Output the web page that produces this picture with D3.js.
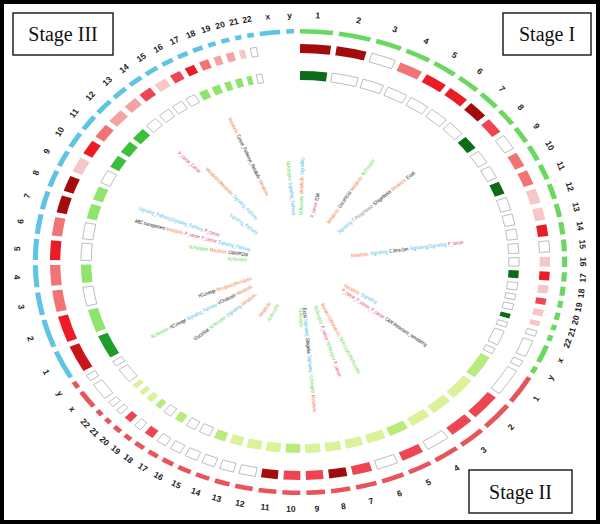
<!DOCTYPE html>
<html>
<head>
<meta charset="utf-8">
<script src="https://cdn.jsdelivr.net/npm/d3@7/dist/d3.min.js"></script>
<style>
  body { margin: 0; background: #fff; }
  svg { display: block; font-family: "Liberation Sans", Arial, sans-serif; }
</style>
</head>
<body>
<script>
// circos style overview of three stages, chromosomes 1-22, x, y

var width = 600, height = 524;
var cx = 300, cy = 262, sx = 1.147;   // the picture is an ellipse, wider than tall

var chroms = ["1","2","3","4","5","6","7","8","9","10","11","12","13","14","15","16","17","18","19","20","21","22","x","y"];
var chromLen = [249,243,198,191,181,171,159,146,141,136,135,134,115,107,102,90,81,78,59,63,48,51,155,59];

var stageNames = ["Stage I","Stage II","Stage III"];
var stageColors = ["#6ad860","#e8545c","#5ec4e4"];

// heat ring codes, one per chromosome (null = no cell)
var redI   = ["dr","dr","e","s","r","r","dr","rs","e","s","s","lp","lp","r","e","lp","r","lp","rs","lp","lp","e","e","e"];
var redII  = ["e","rs","rs","e","rs","e","rs","dr","rs","rs","dr","e","e","e","e","e","e","rs","e","rs","e","e","e","e"];
var redIII = ["mr","r","s","s","r","s","dr","dr","lp","r","s","p","p","rs","lp","rs","r","s","p","p","lp","e",null,null];
var greenI   = ["dg","e","e","e","e","e","e","dg","e","e","dg","e","e","e","e","e","dg","e","e","e","dg","e","e","e"];
var greenII  = ["lg2","yg","yg","yg","lg2","yg","yg","yg","yg","lg2","yg","yg","yg","lg2","e","e","lg2","e","lg2","yg","yg","yg","e","e"];
var greenIII = ["mg","lg","e","lg","e","e","lg","lg","e","g","g","g","e","e","e","e","lg","lg","lg","lg","lg","e",null,null];

var redCodes = ["e","lp","p","s","rs","r","mr","dr"];
var redFills = ["#ffffff","#f7c6c6","#f3a3a3","#f17474","#ee4552","#ec1c26","#c9141c","#a30c0c"];
var greenCodes = ["e","yg","lg2","lg","g","mg","dg"];
var greenFills = ["#ffffff","#dbf19a","#b9ea7c","#8ee46c","#3cbf3a","#1f9d2a","#0b6b16"];

// labels radiating from the middle: direction (deg), inner radius, terms from inside out
var linkAngles = [337, 316, 319, 354, 1, 13, 32, 48, 82, 121, 127, 155, 163, 175, 179, 205, 213, 249, 240, 230, 286, 291, 279, 273, 308];
var linkStart  = [72, 125, 57, 47, 47, 46, 46, 44, 45, 45, 46, 46, 46, 46, 46, 46, 48, 45, 48, 50, 45, 75, 46, 46, 47];
var linkTerms = [
  [["M","Metabolic"],["K","Cancer_Pathways_Metabolic"],["M","Metabolic"]],
  [["P","P_cancer_Cancer"]],
  [["S","Signaling_Pathway"],["M","Metabolic|Metabolic"]],
  [["S","Signaling_Pathway"],["G","NLReceptor"]],
  [["G","NLReceptor"],["M","Metabolic"],["S","Signaling"]],
  [["P","P_cancer"],["K","ECMR"]],
  [["M","Metabolic"],["K","CAM APPCAM"],["M","Metabolic"],["G","NLReceptor"]],
  [["S","Signaling"],["T","T Phosphatase"],["K","Shigellosis"],["M","Metabolic"],["K","Ecoli"]],
  [["M","Metabolic"],["S","Signaling"],["K","C.Jena.Gen"],["S","Signaling|Signaling"],["P","P_cancer"]],
  [["M","Metabolic"],["S","Signaling"]],
  [["P","P_cancer_P_cancer_P_cancer"],["K","CAM.Metastasis_remodeling"]],
  [["M","Metabolic|Metabolic"],["G","NLReceptor|NLReceptor"]],
  [["G","NLReceptor"],["P","P_cancer"],["G","NLReceptor"],["P","P_cancer"]],
  [["K","Ecoli"],["S","Signaling"],["K","Shigella"],["S","Signaling"],["G","NLReceptor"],["M","Metabolic"]],
  [["G","NLReceptor"]],
  [["G","NLReceptor"]],
  [["M","Metabolic"]],
  [["M","Metabolic|Metabolic"],["K","HCLineage"]],
  [["M","Metabolic"],["K","VCholeraIn"],["S","Signaling_Pathway"],["K","HCLineage"],["G","NLReceptor"]],
  [["M","Metabolic"],["S","Signaling"],["G","NLReceptor"],["K","GlucoStat"]],
  [["S","Signaling_Pathway"],["P","P_cancer"],["P","P_cancer"],["M","Metabolic"],["K","ABC transporters"]],
  [["P","P_cancer"],["S","Signaling_Pathway|Signaling_Pathway"]],
  [["K","CAM/APPCAM"],["M","Metabolic"],["G","NLReceptor"]],
  [["G","NLReceptor"]],
  [["S","Signaling_Pathway"]]
];
var catCodes = ["M","S","G","P","K","T"];
var catFills = ["#f47c4a","#4cc0e6","#5cd84a","#e6305e","#111111","#8a8a8a"];

var reds = [redI, redII, redIII];
var greens = [greenI, greenII, greenIII];

var redColor = d3.scaleOrdinal().domain(redCodes).range(redFills);
var greenColor = d3.scaleOrdinal().domain(greenCodes).range(greenFills);
var catColor = d3.scaleOrdinal().domain(catCodes).range(catFills);

var rad = Math.PI / 180;
var stageSpan = 120, padDeg = 1.3;
var total = d3.sum(chromLen);
var ends = d3.cumsum(chromLen);
var mb = d3.scaleLinear().domain([0, total]).range([0, stageSpan - padDeg * chroms.length]);

var segs = [];
stageNames.forEach(function(st, s) {
    chroms.forEach(function(c, i) {
        segs.push({
            stage: s, chrom: c,
            a0: s * stageSpan + mb(ends[i] - chromLen[i]) + i * padDeg,
            a1: s * stageSpan + mb(ends[i]) + i * padDeg,
            red: reds[s][i], green: greens[s][i]
        });
    });
});

function pt(theta, r) {
    return [cx + sx * r * Math.sin(theta * rad), cy - r * Math.cos(theta * rad)];
}

var svg = d3.select("body").append("svg")
    .attr("width", width)
    .attr("height", height);

svg.append("rect").attr("width", width).attr("height", height).attr("fill", "#fff");

var ring = svg.append("g")
    .attr("transform", "translate(" + cx + "," + cy + ") scale(" + sx + ",1)");

function arcFor(r0, r1) {
    return d3.arc()
        .innerRadius(r0).outerRadius(r1)
        .startAngle(function(d) { return d.a0 * rad; })
        .endAngle(function(d) { return d.a1 * rad; });
}

// outer ideogram ring
ring.selectAll(".ideo")
    .data(segs)
    .enter().append("path")
    .attr("class", "ideo")
    .attr("d", arcFor(228.5, 233))
    .attr("fill", function(d) { return stageColors[d.stage]; });

// red heat ring
ring.selectAll(".red")
    .data(segs.filter(function(d) { return d.red; }))
    .enter().append("path")
    .attr("class", "red")
    .attr("d", arcFor(209, 218))
    .attr("fill", function(d) { return redColor(d.red); })
    .attr("stroke", function(d) { return d.red == "e" ? "#a0a0a0" : "none"; })
    .attr("stroke-width", 0.7)
    .attr("vector-effect", "non-scaling-stroke");

// green heat ring
ring.selectAll(".green")
    .data(segs.filter(function(d) { return d.green; }))
    .enter().append("path")
    .attr("class", "green")
    .attr("d", arcFor(182, 191))
    .attr("fill", function(d) { return greenColor(d.green); })
    .attr("stroke", function(d) { return d.green == "e" ? "#a0a0a0" : "none"; })
    .attr("stroke-width", 0.7)
    .attr("vector-effect", "non-scaling-stroke");

// chromosome labels
svg.selectAll(".clab")
    .data(segs)
    .enter().append("text")
    .attr("class", "clab")
    .attr("transform", function(d) {
        var m = (d.a0 + d.a1) / 2, p = pt(m, 247);
        var rot = (m <= 90 || m >= 270) ? m : m - 180;
        return "translate(" + p[0] + "," + p[1] + ") rotate(" + rot + ")";
    })
    .attr("text-anchor", "middle")
    .attr("dy", "0.35em")
    .style("font-size", "8.5px")
    .style("font-weight", "bold")
    .attr("fill", "#222")
    .text(function(d) { return d.chrom; });

// inner radiating labels
var inner = svg.append("g").style("font-size", "5.2px");
var charW = 1.95;
linkAngles.forEach(function(th, j) {
    var p0 = pt(th, linkStart[j]);
    var dx = sx * Math.sin(th * rad), dy = -Math.cos(th * rad);
    var n = Math.hypot(dx, dy);
    dx /= n; dy /= n;
    var phi = Math.atan2(dy, dx) / rad;
    var right = Math.sin(th * rad) >= 0;
    var off = 0;
    linkTerms[j].forEach(function(term) {
        var len = term[1].length * charW;
        var x = p0[0] + dx * off, y = p0[1] + dy * off;
        inner.append("text")
            .attr("transform", "translate(" + x + "," + y + ") rotate(" + (right ? phi : phi + 180) + ")")
            .attr("text-anchor", right ? "start" : "end")
            .attr("dy", "0.35em")
            .attr("textLength", len)
            .attr("lengthAdjust", "spacingAndGlyphs")
            .attr("fill", catColor(term[0]))
            .text(term[1]);
        off += len + 1.5;
    });
});

// stage boxes
var boxX = [503, 469, 13], boxY = [13, 470, 13], boxW = [88, 103, 100], boxH = [42, 43, 42];
stageNames.forEach(function(st, s) {
    svg.append("rect")
        .attr("x", boxX[s]).attr("y", boxY[s])
        .attr("width", boxW[s]).attr("height", boxH[s])
        .attr("fill", "#fff")
        .attr("stroke", "#222")
        .attr("stroke-width", 1.5);
    svg.append("text")
        .attr("x", boxX[s] + boxW[s] / 2)
        .attr("y", boxY[s] + boxH[s] / 2 + 7)
        .attr("text-anchor", "middle")
        .style("font-family", "'Liberation Serif', 'Times New Roman', serif")
        .style("font-size", "20px")
        .attr("fill", "#111")
        .text(st);
});

// frame
svg.append("rect")
    .attr("x", 2).attr("y", 2)
    .attr("width", width - 4).attr("height", height - 4)
    .attr("fill", "none")
    .attr("stroke", "#000")
    .attr("stroke-width", 4);
</script>
</body>
</html>
